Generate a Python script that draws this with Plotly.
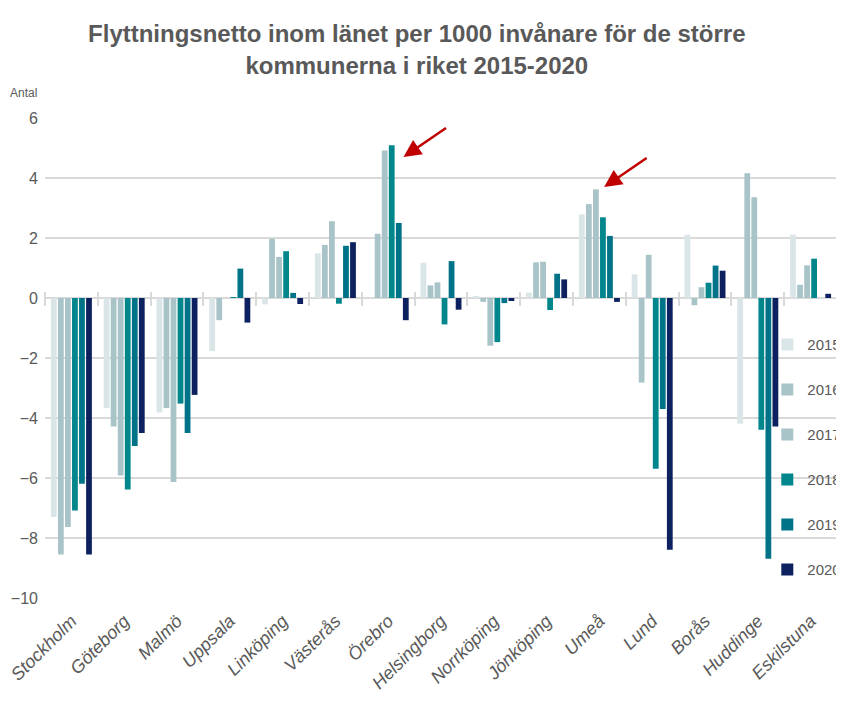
import plotly.graph_objects as go

# Kommuner i den ordning de visas
kommuner = ["Stockholm", "Göteborg", "Malmö", "Uppsala", "Linköping", "Västerås", "Örebro",
            "Helsingborg", "Norrköping", "Jönköping", "Umeå", "Lund", "Borås", "Huddinge", "Eskilstuna"]

ar = ["2015", "2016", "2017", "2018", "2019", "2020"]

# Flyttningsnetto per 1000 invånare
v2015 = [-7.3, -3.67, -3.81, -1.77, -0.21, 1.49, 0.0, 1.18, 0.06, 0.18, 2.79, 0.79, 2.11, -4.19, 2.11]
v2016 = [-8.55, -4.28, -3.67, -0.74, 1.97, 1.77, 2.14, 0.42, -0.13, 1.19, 3.13, -2.82, -0.24, 4.16, 0.44]
v2017 = [-7.63, -5.92, -6.13, 0.0, 1.37, 2.56, 4.92, 0.52, -1.59, 1.21, 3.62, 1.44, 0.36, 3.36, 1.09]
v2018 = [-7.08, -6.38, -3.52, 0.03, 1.56, -0.19, 5.09, -0.88, -1.47, -0.4, 2.69, -5.69, 0.51, -4.39, 1.31]
v2019 = [-6.19, -4.93, -4.5, 0.98, 0.17, 1.74, 2.5, 1.23, -0.17, 0.81, 2.07, -3.7, 1.08, -8.69, 0.0]
v2020 = [-8.55, -4.5, -3.23, -0.82, -0.2, 1.86, -0.74, -0.39, -0.1, 0.62, -0.13, -8.39, 0.91, -4.28, 0.14]

serier = [v2015, v2016, v2017, v2018, v2019, v2020]
farger = ["#DAE5E8", "#A9C4C9", "#A9C4C9", "#00868B", "#007389", "#0D2160"]

FONT = "Liberation Sans, Arial, sans-serif"
GRA = "#595959"

# Sidan har 8 px marginal i body, så figuren görs 8 px mindre
BREDD, HOJD = 836, 718
PLOT_H = 480

fig = go.Figure()

for namn, varden, farg in zip(ar, serier, farger):
    fig.add_trace(go.Bar(x=kommuner, y=varden, name=namn, marker_color=farg,
                         marker_line_width=0, legendgroup=namn))

# Osynligt spår för att rita ut skiljestrecken på nollinjen
fig.add_trace(go.Scatter(x=kommuner, y=[0] * len(kommuner), xaxis="x2", mode="markers",
                         marker_opacity=0, showlegend=False, hoverinfo="skip"))

fig.update_layout(
    width=BREDD, height=HOJD,
    margin=dict(l=37, r=7, t=110, b=HOJD - 110 - PLOT_H, autoexpand=False),
    paper_bgcolor="white", plot_bgcolor="white",
    barmode="group", bargap=0.2, bargroupgap=0.18,
    font=dict(family=FONT, color=GRA),
    title=dict(text="<b>Flyttningsnetto inom länet per 1000 invånare för de större<br>kommunerna i riket 2015-2020</b>",
               x=0.489, xref="container", xanchor="center", y=0.952, yref="container", yanchor="middle",
               font=dict(size=24, color=GRA, family=FONT)),
    legend=dict(x=0.912, xanchor="left", y=0.562, yanchor="top", bgcolor="rgba(0,0,0,0)",
                font=dict(size=15, color=GRA), tracegroupgap=22.5, itemwidth=30),
    xaxis=dict(range=[-0.5, len(kommuner) - 0.5], autorange=False,
               tickangle=-45, tickfont=dict(size=18, color=GRA, family=FONT, style="italic"),
               ticklabelstandoff=8,
               showgrid=False, showline=False, ticks="", zeroline=False, automargin=False),
    xaxis2=dict(overlaying="x", matches="x", anchor="free", position=0.625 + 7 / PLOT_H,
                showticklabels=False, ticks="outside", tickson="boundaries", ticklen=14,
                tickcolor="#D9D9D9", tickwidth=1.5, showline=False, showgrid=False, zeroline=False),
    yaxis=dict(range=[-10, 6], dtick=2, tick0=0, showgrid=True, gridcolor="#D9D9D9", gridwidth=1.5,
               zeroline=True, zerolinecolor="#D9D9D9", zerolinewidth=1.5, automargin=False,
               tickfont=dict(size=16, color=GRA, family=FONT), ticklabelstandoff=6),
)

fig.add_annotation(text="Antal", xref="paper", yref="paper", x=-0.047, y=1.052,
                   xanchor="left", yanchor="middle", showarrow=False,
                   font=dict(size=12, color=GRA, family=FONT))

# Röda pilar mot Örebro och Umeå
for xpos, ypos in [(6.29, 4.7), (10.09, 3.7)]:
    fig.add_annotation(x=xpos, y=ypos, xref="x", yref="y", ax=44, ay=-30, text="",
                       showarrow=True, arrowhead=2, arrowsize=1.4, arrowwidth=2.5, arrowcolor="#C00000")

fig.write_html("out.html")
